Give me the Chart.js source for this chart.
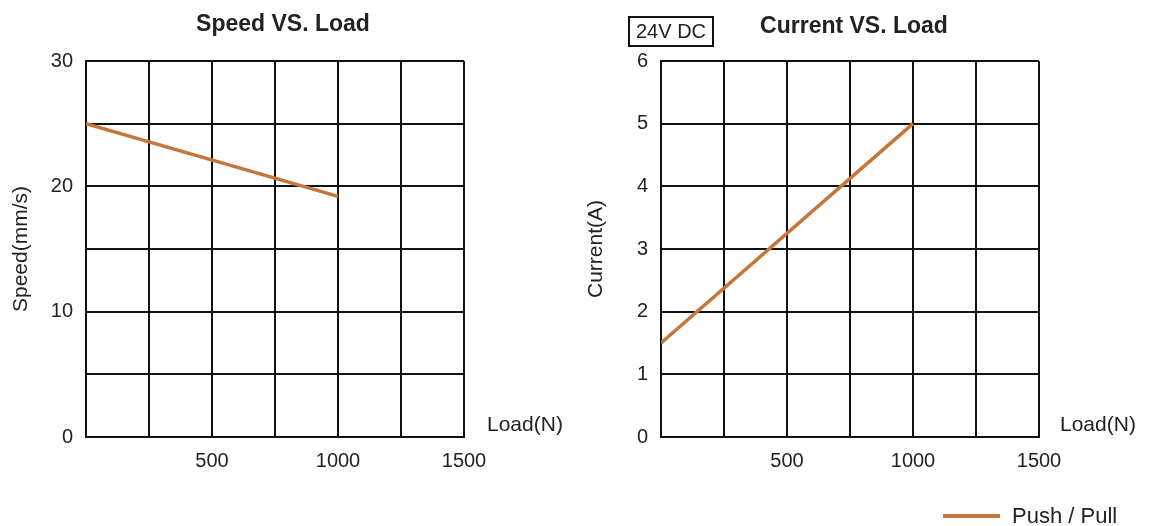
<!DOCTYPE html>
<html>
<head>
<meta charset="utf-8">
<script src="https://cdn.jsdelivr.net/npm/chart.js@4.4.1/dist/chart.umd.min.js"></script>
<style>
  html, body { margin: 0; padding: 0; background: #fff; }
  body { width: 1150px; height: 526px; position: relative; overflow: hidden; font-family: "Liberation Sans", Arial, sans-serif; color: #222; }
  .box { position: absolute; top: 0; width: 575px; height: 526px; }
  .title { position: absolute; font-weight: bold; font-size: 23px; line-height: 28px; white-space: nowrap; transform: translateX(-50%); }
  .lbl { position: absolute; font-size: 21px; line-height: 24px; white-space: nowrap; }
  .volt { position: absolute; left: 628px; top: 16px; width: 82px; height: 27px; border: 2px solid #111; font-size: 20px; line-height: 27px; text-align: center; }
  .legline { position: absolute; left: 943px; top: 514px; width: 57px; height: 4px; }
</style>
</head>
<body>
<div class="box" style="left:0"><canvas id="speedChart"></canvas></div>
<div class="box" style="left:575px"><canvas id="currentChart"></canvas></div>

<div class="title" style="left:283px; top:9px">Speed VS. Load</div>
<div class="title" style="left:854px; top:11px">Current VS. Load</div>
<div class="volt">24V DC</div>
<div class="lbl" style="left:487px; top:412px">Load(N)</div>
<div class="lbl" style="left:1060px; top:412px">Load(N)</div>
<div class="legline" id="legLine"></div>
<div class="lbl" style="left:1012px; top:504px; font-size:22px">Push / Pull</div>

<script>
  // datos
  const loads = [0, 1000];
  const speeds = [25, 19.2];
  const currents = [1.5, 5];
  const xTickLabels = [500, 1000, 1500];
  const speedTickLabels = [0, 10, 20, 30];
  const currentTickLabels = [0, 1, 2, 3, 4, 5, 6];
  const seriesName = "Push / Pull";

  const lineColor = "#c5763a";
  const fontFamily = '"Liberation Sans", Arial, sans-serif';
  document.getElementById("legLine").style.background = lineColor;

  function makeChart(canvasId, values, yMax, yStep, yLabels, yTitle, titleAlign) {
    return new Chart(document.getElementById(canvasId), {
      type: "line",
      data: {
        datasets: [{
          label: seriesName,
          data: loads.map((x, i) => ({ x: x, y: values[i] })),
          borderColor: lineColor,
          borderWidth: 3.5,
          pointRadius: 0,
          tension: 0
        }]
      },
      options: {
        responsive: true,
        maintainAspectRatio: false,
        animation: false,
        layout: { padding: { top: 61, right: 111, bottom: 0, left: 0 } },
        plugins: { legend: { display: false }, tooltip: { enabled: false } },
        scales: {
          x: {
            type: "linear",
            min: 0,
            max: 1500,
            afterFit: s => { s.height = 89; },
            border: { color: "#111", width: 2 },
            grid: { color: "#111", lineWidth: 2, drawTicks: false },
            ticks: {
              stepSize: 250,
              padding: 12,
              color: "#222",
              font: { family: fontFamily, size: 20 },
              maxRotation: 0,
              autoSkip: false,
              callback: v => xTickLabels.includes(v) ? String(v) : ""
            }
          },
          y: {
            min: 0,
            max: yMax,
            afterFit: s => { s.width = 86; },
            border: { color: "#111", width: 2 },
            grid: { color: "#111", lineWidth: 2, drawTicks: false },
            title: {
              display: true,
              text: yTitle,
              color: "#222",
              font: { family: fontFamily, size: 21 },
              padding: { top: 9, bottom: 0 }
            },
            ticks: {
              stepSize: yStep,
              padding: 13,
              color: "#222",
              font: { family: fontFamily, size: 20 },
              autoSkip: false,
              callback: v => yLabels.includes(v) ? String(v) : ""
            }
          }
        }
      }
    });
  }

  makeChart("speedChart", speeds, 30, 5, speedTickLabels, "Speed(mm/s)");
  makeChart("currentChart", currents, 6, 1, currentTickLabels, "Current(A)");
</script>
</body>
</html>
